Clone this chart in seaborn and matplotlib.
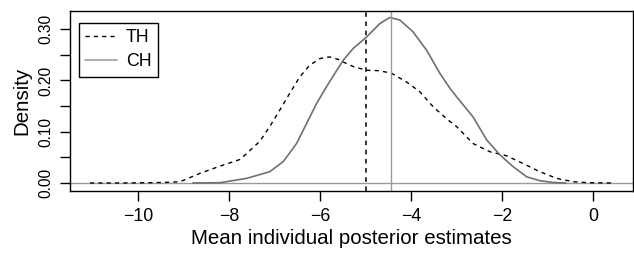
import seaborn as sns
import numpy as np
import matplotlib.pyplot as plt
import pandas as pd

# density curves
th_x = [-11.06, -10.5, -10.0, -9.6, -9.3, -9.08, -8.64, -8.2, -7.76, -7.54, -7.33, -7.11,
        -6.89, -6.67, -6.45, -6.23, -6.0, -5.79, -5.6, -5.49, -5.27, -4.98, -4.69,
        -4.43, -4.10, -3.81, -3.52, -3.19, -3.0, -2.64, -2.27, -1.90, -1.54, -1.17,
        -0.80, -0.44, -0.1, 0.48]
th_y = [0.0, 0.0, 0.0003, 0.0008, 0.0015, 0.0025, 0.019, 0.033, 0.046, 0.064, 0.081, 0.110,
        0.142, 0.175, 0.207, 0.230, 0.243, 0.246, 0.241, 0.236, 0.227, 0.220, 0.219,
        0.214, 0.197, 0.178, 0.149, 0.123, 0.110, 0.077, 0.061, 0.053, 0.038, 0.022,
        0.009, 0.0025, 0.0005, 0.0]
ch_x = [-8.8, -8.2, -7.62, -7.11, -6.81, -6.52, -6.30, -6.08, -5.86, -5.67, -5.49, -5.27,
        -4.98, -4.69, -4.47, -4.25, -3.96, -3.66, -3.37, -3.15, -3.0, -2.64, -2.34,
        -2.05, -1.76, -1.46, -1.17, -0.88, -0.6]
ch_y = [0.0, 0.0006, 0.009, 0.022, 0.042, 0.077, 0.116, 0.155, 0.188, 0.215, 0.240, 0.263,
        0.285, 0.311, 0.323, 0.318, 0.295, 0.259, 0.214, 0.185, 0.168, 0.129, 0.084,
        0.055, 0.032, 0.012, 0.0045, 0.001, 0.0]
th_mean = -5.0
ch_mean = -4.44

df = pd.concat([
    pd.DataFrame({"x": th_x, "y": th_y, "group": "TH"}),
    pd.DataFrame({"x": ch_x, "y": ch_y, "group": "CH"}),
])

sns.set_theme(style="white")
plt.rcParams['font.family'] = ['Liberation Sans', 'DejaVu Sans']
plt.rcParams.update({"text.color": "black", "axes.labelcolor": "black",
                     "xtick.color": "black", "ytick.color": "black"})

fig = plt.figure(figsize=(6.34, 2.57), dpi=100)
ax = fig.add_axes([0.1104, 0.258, 0.8876, 0.700])

ax.axhline(0, color="#9a9a9a", lw=1)
sns.lineplot(data=df[df.group == "TH"], x="x", y="y", color="black", lw=1,
             ax=ax, label="TH", sort=False)
ax.lines[-1].set_dashes((3, 3))
sns.lineplot(data=df[df.group == "CH"], x="x", y="y", color="#707070", lw=1.2,
             ax=ax, label="CH", sort=False)
ax.axvline(th_mean, color="black", lw=1.1, dashes=(3, 3))
ax.axvline(ch_mean, color="#9a9a9a", lw=1)

ax.set_xlim(-11.5, 0.87)
ax.set_ylim(-0.015, 0.336)
ax.set_xticks([-10, -8, -6, -4, -2, 0])
ax.set_xticklabels(["\u221210", "\u22128", "\u22126", "\u22124", "\u22122", "0"])
ax.set_yticks([0, 0.05, 0.10, 0.15, 0.20, 0.25, 0.30])
ax.set_yticklabels(["0.00", "", "0.10", "", "0.20", "", "0.30"], rotation=90, va="center")
ax.tick_params(axis="both", direction="out", length=7, width=1, color="black",
               bottom=True, left=True)
ax.tick_params(axis="x", pad=5.2, labelsize=12.8)
ax.tick_params(axis="y", pad=5, labelsize=11.2)
for s in ax.spines.values():
    s.set_color("black")
    s.set_linewidth(1)

ax.set_xlabel("Mean individual posterior estimates", fontsize=14.8, labelpad=2.8)
ax.set_ylabel("Density", fontsize=14.8, labelpad=5)

leg = ax.legend(loc="upper left", frameon=True, fancybox=False, fontsize=12.8,
                handlelength=1.8, handletextpad=0.5, borderpad=0.35,
                labelspacing=0.4, borderaxespad=0,
                bbox_to_anchor=(0.016, 0.932))
leg.get_frame().set_edgecolor("black")
leg.get_frame().set_linewidth(1)
leg.get_frame().set_alpha(1)
leg.get_lines()[0].set_dashes((3, 3))
leg.get_lines()[1].set_color("#a0a0a0")

fig.savefig("out.png", dpi=100)
